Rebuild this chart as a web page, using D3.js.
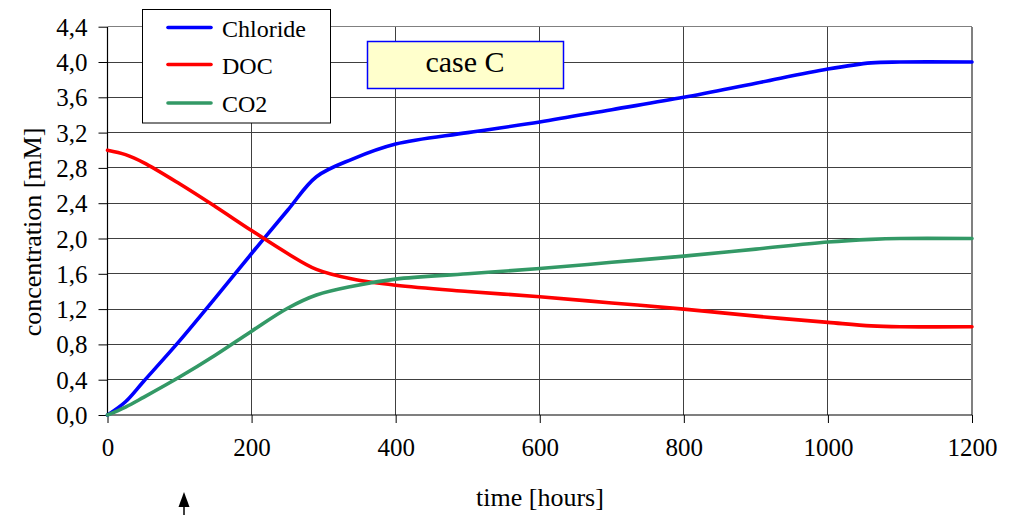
<!DOCTYPE html>
<html>
<head>
<meta charset="utf-8">
<script src="https://cdn.jsdelivr.net/npm/d3@7"></script>
<style>
html,body{margin:0;padding:0;background:#fff;}
svg{display:block;}
svg text{font-family:"Liberation Serif","Times New Roman",serif;}
</style>
</head>
<body>
<svg id="chart" width="1017" height="515"></svg>
<script>
// Data
const time      = [0, 25, 50, 100, 150, 200, 250, 290, 340, 400, 500, 600, 700, 800, 900, 1000, 1060, 1100, 1200];
const chloride  = [0, 0.15, 0.38, 0.84, 1.33, 1.83, 2.32, 2.70, 2.90, 3.07, 3.20, 3.32, 3.46, 3.60, 3.76, 3.92, 3.99, 4.0, 4.0];
const doc       = [3.0, 2.95, 2.86, 2.62, 2.36, 2.09, 1.83, 1.65, 1.54, 1.47, 1.40, 1.34, 1.27, 1.20, 1.12, 1.05, 1.01, 1.0, 1.0];
const co2       = [0, 0.09, 0.2, 0.43, 0.68, 0.95, 1.21, 1.36, 1.46, 1.54, 1.60, 1.66, 1.73, 1.80, 1.88, 1.96, 1.99, 2.0, 2.0];
const seriesNames  = ["Chloride", "DOC", "CO2"];
const seriesColors = ["#0000ff", "#ff0000", "#339966"];
const xTicks = [0, 200, 400, 600, 800, 1000, 1200];
const yTicks = [0, 0.4, 0.8, 1.2, 1.6, 2.0, 2.4, 2.8, 3.2, 3.6, 4.0, 4.4];
const caseLabel = "case C";

const svg = d3.select("#chart");
const L = 107.5, R = 972, T = 26.7, B = 415;
const x = d3.scaleLinear().domain([0, 1200]).range([L, R]);
const y = d3.scaleLinear().domain([0, 4.4]).range([B, T]);
const fmt = v => d3.format(".1f")(v).replace(".", ",");
const FS = 25, TFS = 26;

// grid
const grid = svg.append("g");
grid.selectAll("line.h").data(yTicks.slice(1)).enter().append("line")
  .attr("x1", L).attr("x2", R).attr("y1", d => y(d)).attr("y2", d => y(d))
  .attr("stroke", d => d === 4.4 ? "#808080" : "#404040").attr("stroke-width", 1)
  .attr("shape-rendering", "crispEdges");
grid.selectAll("line.v").data(xTicks.slice(1)).enter().append("line")
  .attr("x1", d => x(d)).attr("x2", d => x(d)).attr("y1", T).attr("y2", B)
  .attr("stroke", d => d === 1200 ? "#808080" : "#404040").attr("stroke-width", d => d === 1200 ? 1.5 : 1)
  .attr("shape-rendering", "crispEdges");

// axes
const yAxis = d3.axisLeft(y).tickValues(yTicks).tickFormat(fmt).tickSize(9).tickPadding(11);
const gy = svg.append("g").attr("transform", `translate(${L},0)`).call(yAxis);
const xAxis = d3.axisBottom(x).tickValues(xTicks).tickFormat(d3.format("d")).tickSize(8).tickPadding(15);
const gx = svg.append("g").attr("transform", `translate(0,${B})`).call(xAxis);
[gx, gy].forEach(g => {
  g.attr("font-family", null).attr("font-size", null);
  g.select(".domain").attr("stroke", "#000").attr("stroke-width", 1.2);
  g.selectAll(".tick line").attr("stroke", "#000").attr("stroke-width", 1);
  g.selectAll("text").style("font-family", "'Liberation Serif', serif").style("font-size", FS + "px").attr("fill", "#000");
});
gy.select(".domain").attr("d", `M0,${B}V${T}`);
gx.select(".domain").attr("d", `M${L},0H${R}`);
gy.selectAll(".tick text").attr("dy", "0.34em");

// lines
const data = [chloride, doc, co2];
const line = d3.line().x((d, i) => x(time[i])).y(d => y(d)).curve(d3.curveCatmullRom.alpha(0.5));
svg.append("g").selectAll("path").data(data).enter().append("path")
  .attr("d", d => line(d)).attr("fill", "none")
  .attr("stroke", (d, i) => seriesColors[i]).attr("stroke-width", 3.6)
  .attr("stroke-linejoin", "round").attr("stroke-linecap", "round");

// axis titles
svg.append("text").attr("x", 540).attr("y", 506).attr("text-anchor", "middle")
  .style("font-size", TFS + "px").text("time [hours]");
svg.append("text").attr("transform", "translate(41,232) rotate(-90)").attr("text-anchor", "middle")
  .style("font-size", TFS + "px").text("concentration [mM]");

// legend
const lg = svg.append("g");
lg.append("rect").attr("x", 142.5).attr("y", 9.5).attr("width", 188).attr("height", 113.5)
  .attr("fill", "#fff").attr("stroke", "#000").attr("stroke-width", 1);
const ly = [27.5, 64.5, 103];
seriesNames.forEach((n, i) => {
  lg.append("line").attr("x1", 168).attr("x2", 211).attr("y1", ly[i]).attr("y2", ly[i])
    .attr("stroke", seriesColors[i]).attr("stroke-width", 3.6).attr("stroke-linecap", "round");
  lg.append("text").attr("x", 222).attr("y", ly[i] + 9).style("font-size", "24px").text(n);
});

// case label
svg.append("rect").attr("x", 367.5).attr("y", 41.5).attr("width", 196).attr("height", 47)
  .attr("fill", "#ffffcc").attr("stroke", "#0000ff").attr("stroke-width", 1.5);
svg.append("text").attr("x", 465).attr("y", 72).attr("text-anchor", "middle")
  .style("font-size", "30px").text(caseLabel);

// arrow
svg.append("line").attr("x1", 184).attr("x2", 184).attr("y1", 505).attr("y2", 515)
  .attr("stroke", "#000").attr("stroke-width", 1.5);
svg.append("path").attr("d", "M184,492 L178.5,507 L189.5,507 Z").attr("fill", "#000");
</script>
</body>
</html>
